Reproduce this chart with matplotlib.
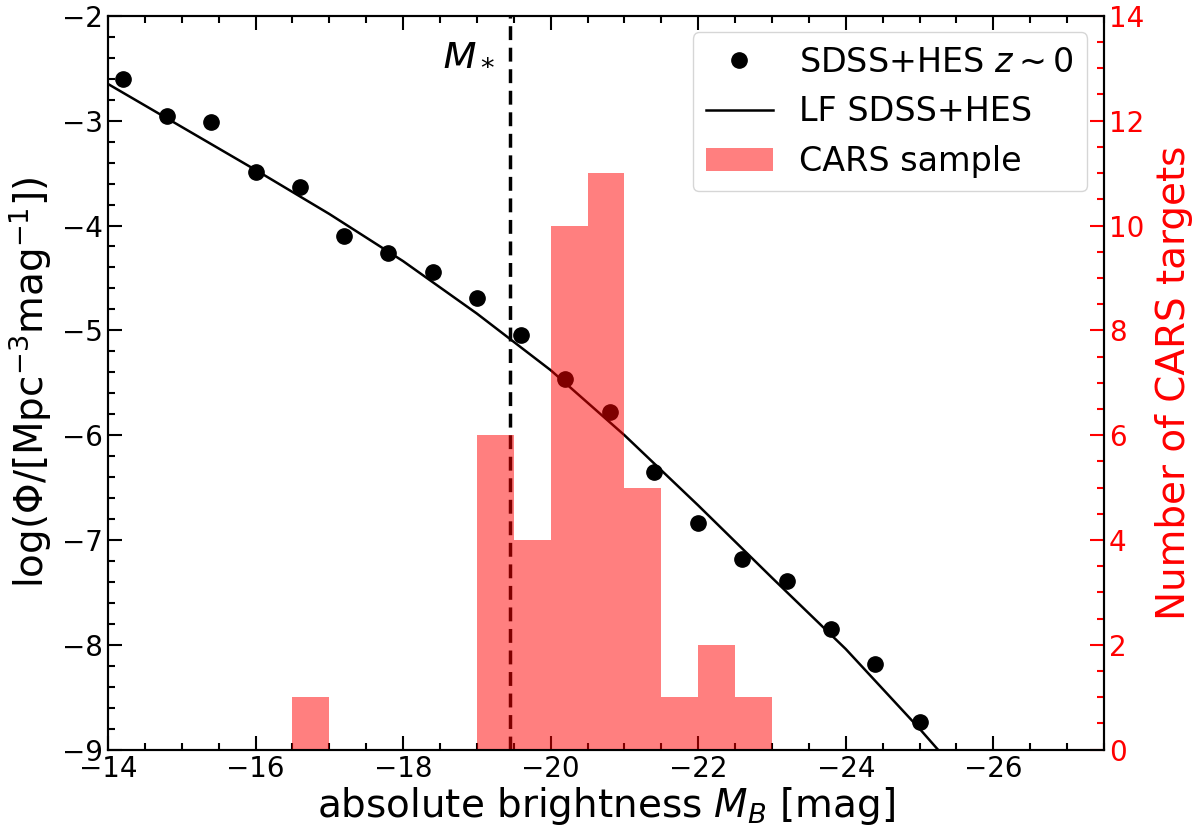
import matplotlib
matplotlib.use('Agg')
import matplotlib.pyplot as plt
import numpy as np
from matplotlib.ticker import MultipleLocator

# SDSS+HES z~0 数据点
mag_pts = [-14.2, -14.8, -15.4, -16.0, -16.6, -17.2, -17.8, -18.4, -19.0, -19.6,
           -20.2, -20.8, -21.4, -22.0, -22.6, -23.2, -23.8, -24.4, -25.0]
logphi_pts = [-2.60, -2.96, -3.01, -3.49, -3.63, -4.10, -4.26, -4.44, -4.69, -5.04,
              -5.46, -5.78, -6.35, -6.84, -7.18, -7.39, -7.85, -8.18, -8.74]

# LF 曲线
mag_lf = [-14.0, -15.0, -16.0, -17.0, -18.0, -19.0, -20.0, -21.0, -22.0, -23.0,
          -24.0, -25.0, -25.3]
logphi_lf = [-2.65, -3.06, -3.47, -3.89, -4.34, -4.84, -5.38, -6.00, -6.67, -7.36,
             -8.04, -8.80, -9.04]

# CARS 样本直方图
bin_edges = [-16.5, -17.0, -17.5, -18.0, -18.5, -19.0, -19.5, -20.0, -20.5, -21.0,
             -21.5, -22.0, -22.5, -23.0]
counts = [1, 0, 0, 0, 0, 6, 4, 10, 11, 5, 1, 2, 1]

m_star = -19.45

plt.rcParams['font.family'] = ['DejaVu Sans']
plt.rcParams['mathtext.fontset'] = 'dejavusans'

fig, ax1 = plt.subplots(figsize=(12, 8.33), dpi=100)
fig.subplots_adjust(left=0.09, right=0.92, top=0.981, bottom=0.1)

ax1.plot(mag_pts, logphi_pts, 'o', color='black', ms=11, label=r'SDSS+HES $z\sim0$', zorder=3)
ax1.plot(mag_lf, logphi_lf, '-', color='black', lw=1.8, label='LF SDSS+HES', zorder=2)
ax1.axvline(m_star, color='black', ls='--', lw=2.5, dashes=(4, 2.2))
ax1.text(-18.89, -2.36, r'$M_*$', fontsize=28, ha='center', va='center')

ax1.set_xlim(-14, -27.5)
ax1.set_ylim(-9, -2)
ax1.set_xlabel(r'absolute brightness $M_B$ [mag]', fontsize=28, labelpad=2)
ax1.set_ylabel(r'log($\Phi$/[Mpc$^{-3}$mag$^{-1}$])', fontsize=28, labelpad=6)
ax1.xaxis.set_major_locator(MultipleLocator(2))
ax1.xaxis.set_minor_locator(MultipleLocator(0.5))
ax1.yaxis.set_major_locator(MultipleLocator(1))
ax1.yaxis.set_minor_locator(MultipleLocator(0.2))
ax1.tick_params(which='both', direction='in', top=True, right=False, labelsize=20, width=1.5)
ax1.tick_params(which='major', length=10)
ax1.tick_params(which='minor', length=5)
for s in ax1.spines.values():
    s.set_linewidth(1.5)

ax2 = ax1.twinx()
edges = np.array(bin_edges)
ax2.bar(edges[:-1], counts, width=np.diff(edges), align='edge', color='red', alpha=0.5,
        label='CARS sample')
ax2.set_ylim(0, 14)
ax2.set_ylabel('Number of CARS targets', fontsize=28, color='red', labelpad=8)
ax2.yaxis.set_major_locator(MultipleLocator(2))
ax2.yaxis.set_minor_locator(MultipleLocator(0.5))
ax2.tick_params(which='both', direction='in', colors='red', labelsize=20, width=1.5)
ax2.tick_params(which='major', length=10)
ax2.tick_params(which='minor', length=5)
for s in ax2.spines.values():
    s.set_linewidth(1.5)
    s.set_edgecolor('black')

h1, l1 = ax1.get_legend_handles_labels()
h2, l2 = ax2.get_legend_handles_labels()
ax2.legend(h1 + h2, l1 + l2, loc='upper right', fontsize=24)

fig.savefig('out.png', dpi=100)
